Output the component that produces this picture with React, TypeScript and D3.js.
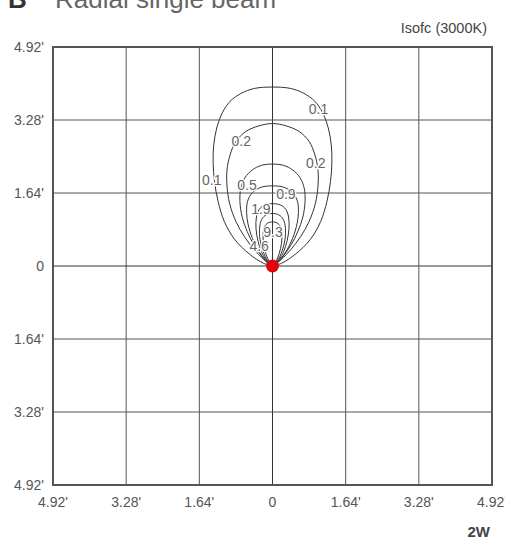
import React from "react";
import * as d3 from "d3";

// Axis ticks (feet)
const tickValues = [-4.92, -3.28, -1.64, 0, 1.64, 3.28, 4.92];
const tickLabels = ["4.92'", "3.28'", "1.64'", "0", "1.64'", "3.28'", "4.92'"];

// Isolux contours: right-half outline in feet [x, y], from the top (x=0) down to the source
const contour01: [number, number][] = [[0, 4.02], [0.4, 3.99], [0.7, 3.88], [0.95, 3.7], [1.12, 3.45], [1.25, 3.1], [1.32, 2.7], [1.33, 2.3], [1.3, 1.9], [1.22, 1.45], [1.08, 1.0], [0.85, 0.6], [0.52, 0.27], [0.2, 0.06], [0, 0]];
const contour02: [number, number][] = [[0, 3.2], [0.3, 3.15], [0.6, 3.02], [0.82, 2.8], [0.95, 2.5], [1.02, 2.15], [1.02, 1.8], [0.96, 1.4], [0.82, 1.0], [0.63, 0.66], [0.42, 0.38], [0.2, 0.15], [0.06, 0.03], [0, 0]];
const contour05: [number, number][] = [[0, 2.29], [0.25, 2.26], [0.45, 2.16], [0.62, 1.98], [0.71, 1.75], [0.73, 1.45], [0.68, 1.1], [0.57, 0.78], [0.42, 0.48], [0.24, 0.22], [0.08, 0.05], [0, 0]];
const contour09: [number, number][] = [[0, 1.8], [0.25, 1.77], [0.45, 1.65], [0.56, 1.45], [0.58, 1.2], [0.55, 0.95], [0.45, 0.62], [0.3, 0.32], [0.12, 0.09], [0, 0]];
const contour19: [number, number][] = [[0, 1.4], [0.18, 1.37], [0.3, 1.27], [0.36, 1.1], [0.37, 0.85], [0.33, 0.58], [0.24, 0.3], [0.1, 0.08], [0, 0]];
const contour46: [number, number][] = [[0, 1.18], [0.14, 1.15], [0.24, 1.05], [0.29, 0.85], [0.28, 0.6], [0.22, 0.35], [0.1, 0.1], [0, 0]];
const contour93: [number, number][] = [[0, 0.99], [0.1, 0.97], [0.18, 0.88], [0.21, 0.7], [0.2, 0.5], [0.15, 0.28], [0.07, 0.09], [0, 0]];
const contours = [contour01, contour02, contour05, contour09, contour19, contour46, contour93];

// Contour labels [text, x ft, y ft]
const labelTexts = ["0.1", "0.2", "0.2", "0.1", "0.5", "0.9", "1.9", "9.3", "4.6"];
const labelX = [1.03, -0.7, 0.97, -1.36, -0.57, 0.3, -0.26, 0.01, -0.3];
const labelY = [3.53, 2.81, 2.31, 1.93, 1.83, 1.62, 1.28, 0.76, 0.45];

export default function App() {
  const W = 505, H = 542;
  const x = d3.scaleLinear().domain([-4.92, 4.92]).range([53, 492]);
  const y = d3.scaleLinear().domain([-4.92, 4.92]).range([485, 47]);
  const font = "'Liberation Sans', Arial, Helvetica, sans-serif";

  const line = d3
    .line<[number, number]>()
    .x((d) => x(d[0]))
    .y((d) => y(d[1]))
    .curve(d3.curveCatmullRom.alpha(0.5));

  const fullPath = (half: [number, number][]) => {
    const left = half.slice(1).map(([a, b]) => [-a, b] as [number, number]).reverse();
    return line([...left, ...half]) || "";
  };

  return (
    <svg
      width={W}
      height={H}
      style={{ position: "absolute", left: 0, top: 0, background: "#fff" }}
      fontFamily={font}
    >
      <rect x={0} y={0} width={W} height={H} fill="#fff" />
      {/* Title */}
      <text x={8} y={8} fontSize={26} fontWeight="bold" fill="#333">B</text>
      <text x={55} y={8} fontSize={26} fill="#666">Radial single beam</text>
      <text x={487} y={33} fontSize={14.5} fill="#444" textAnchor="end">Isofc (3000K)</text>

      {/* Grid */}
      {tickValues.slice(1, -1).map((t, i) => (
        <g key={"g" + i}>
          <line x1={x(t)} x2={x(t)} y1={y(4.92)} y2={y(-4.92)} stroke={t === 0 ? "#333" : "#555"} strokeWidth={1} />
          <line x1={x(-4.92)} x2={x(4.92)} y1={y(t)} y2={y(t)} stroke={t === 0 ? "#333" : "#555"} strokeWidth={1} />
        </g>
      ))}
      <rect
        x={x(-4.92)}
        y={y(4.92)}
        width={x(4.92) - x(-4.92)}
        height={y(-4.92) - y(4.92)}
        fill="none"
        stroke="#555"
        strokeWidth={2}
      />

      {/* Tick labels */}
      {tickValues.map((t, i) => (
        <text key={"bx" + i} x={x(t)} y={507} fontSize={14} fill="#555" textAnchor="middle">
          {tickLabels[i]}
        </text>
      ))}
      {tickValues.map((t, i) => (
        <text key={"ly" + i} x={44} y={y(t) + 5} fontSize={14} fill="#555" textAnchor="end">
          {tickLabels[tickLabels.length - 1 - i]}
        </text>
      ))}

      {/* Contours */}
      {contours.map((c, i) => (
        <path key={"c" + i} d={fullPath(c)} fill="none" stroke="#333" strokeWidth={1} />
      ))}

      {/* Contour labels */}
      {labelTexts.map((t, i) => (
        <text
          key={"lab" + i}
          x={x(labelX[i])}
          y={y(labelY[i]) + 5}
          fontSize={14}
          fill="#666"
          textAnchor="middle"
          stroke="#fff"
          strokeWidth={2.5}
          paintOrder="stroke"
        >
          {t}
        </text>
      ))}

      {/* Source */}
      <circle cx={x(0)} cy={y(0)} r={6.5} fill="#e3000f" />

      <text x={490} y={537} fontSize={15} fontWeight="bold" fill="#444" textAnchor="end">2W</text>
    </svg>
  );
}
